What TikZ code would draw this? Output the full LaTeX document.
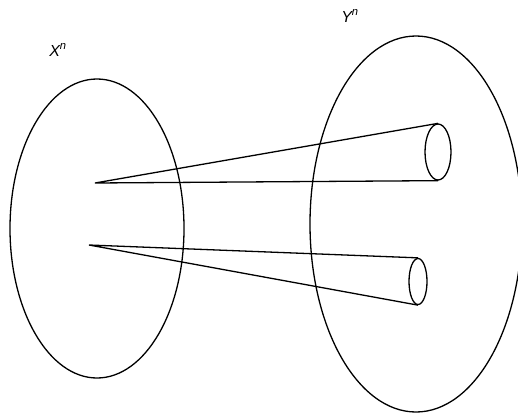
\documentclass[tikz,border=0pt]{standalone}
\usepackage{fontspec}
\setmainfont{Liberation Sans}
\usetikzlibrary{shapes.geometric}
\begin{document}
\begin{tikzpicture}[x=1pt,y=-1pt,
  set/.style={draw,ellipse,inner sep=0pt,line width=1.3pt},
  cone/.style={line width=1.3pt},
  lbl/.style={font=\fontsize{16}{18}\selectfont\itshape,inner sep=0pt}]
\useasboundingbox (0,0) rectangle (518,415);
\begin{scope}
\clip (0,0) rectangle (518,415);
\node[set,minimum width=174pt,minimum height=299pt] (X) at (97,228.5) {};
\node[set,minimum width=212pt,minimum height=376pt] (Y) at (416,224) {};
\end{scope}
\node[set,minimum width=26pt,minimum height=56pt] (e1) at (438,152) {};
\node[set,minimum width=18pt,minimum height=46pt] (e2) at (418,281.5) {};
\coordinate (a1) at (95,183);
\coordinate (a2) at (89,245);
\draw[cone] (e1.north) -- (a1) -- (e1.south);
\draw[cone] (e2.north) -- (a2) -- (e2.south);
\node[lbl] (lx) at (58,50) {X\textsuperscript{n}};
\node[lbl] (ly) at (350,16) {Y\textsuperscript{n}};
\end{tikzpicture}
\end{document}
